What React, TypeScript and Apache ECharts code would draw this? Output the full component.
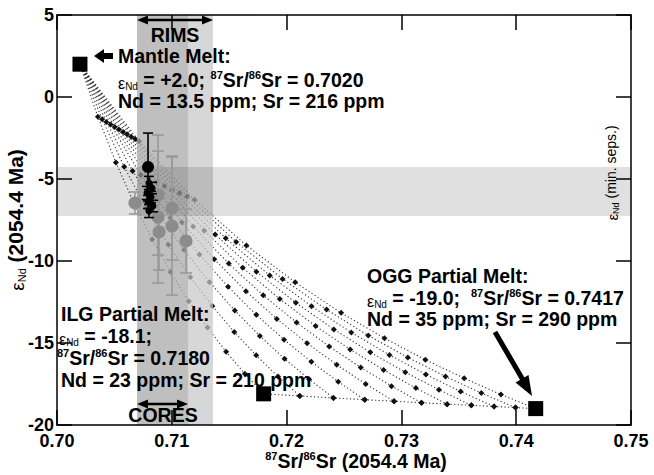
import React, { useEffect, useRef } from 'react';
import * as echarts from 'echarts';

const F = '"Liberation Sans", Arial, Helvetica, sans-serif';

// End members [87Sr/86Sr, eNd]
const mantleMelt = [0.702, 2.0];
const ilgMelt = [0.718, -18.1];
const oggMelt = [0.7417, -19.0];

// Mixing curves mantle -> crustal mixes (ILG:OGG from 100:0 to 0:100), ticks every 10 %
const mixG00 = [[0.7020, 2.00], [0.70356, -1.20], [0.70513, -4.00], [0.70671, -6.48], [0.70829, -8.69], [0.70989, -10.67], [0.71149, -12.45], [0.71311, -14.06], [0.71473, -15.53], [0.71636, -16.87], [0.7180, -18.10]];
const mixG01 = [[0.7020, 2.00], [0.70393, -1.36], [0.70586, -4.26], [0.70778, -6.79], [0.70970, -9.01], [0.71162, -10.99], [0.71353, -12.75], [0.71544, -14.33], [0.71735, -15.75], [0.71925, -17.05], [0.72115, -18.23]];
const mixG02 = [[0.7020, 2.00], [0.70430, -1.52], [0.70658, -4.51], [0.70884, -7.08], [0.71107, -9.32], [0.71329, -11.29], [0.71549, -13.02], [0.71767, -14.57], [0.71982, -15.96], [0.72196, -17.21], [0.72408, -18.35]];
const mixG03 = [[0.7020, 2.00], [0.70467, -1.67], [0.70729, -4.75], [0.70987, -7.37], [0.71241, -9.61], [0.71490, -11.57], [0.71736, -13.28], [0.71978, -14.80], [0.72216, -16.15], [0.72450, -17.36], [0.72681, -18.46]];
const mixG04 = [[0.7020, 2.00], [0.70503, -1.83], [0.70799, -4.99], [0.71088, -7.64], [0.71370, -9.89], [0.71646, -11.84], [0.71915, -13.53], [0.72179, -15.01], [0.72437, -16.33], [0.72689, -17.50], [0.72936, -18.55]];
const mixG05 = [[0.7020, 2.00], [0.70539, -1.98], [0.70868, -5.21], [0.71186, -7.90], [0.71496, -10.16], [0.71796, -12.09], [0.72087, -13.75], [0.72371, -15.21], [0.72646, -16.49], [0.72914, -17.63], [0.73175, -18.64]];
const mixG06 = [[0.7020, 2.00], [0.70575, -2.13], [0.70936, -5.43], [0.71283, -8.15], [0.71618, -10.41], [0.71941, -12.32], [0.72253, -13.97], [0.72554, -15.39], [0.72845, -16.64], [0.73126, -17.75], [0.73398, -18.73]];
const mixG07 = [[0.7020, 2.00], [0.70610, -2.27], [0.71002, -5.65], [0.71378, -8.39], [0.71737, -10.65], [0.72081, -12.55], [0.72412, -14.17], [0.72729, -15.57], [0.73034, -16.78], [0.73327, -17.85], [0.73609, -18.80]];
const mixG08 = [[0.7020, 2.00], [0.70646, -2.42], [0.71068, -5.86], [0.71470, -8.62], [0.71853, -10.88], [0.72217, -12.76], [0.72564, -14.36], [0.72896, -15.73], [0.73213, -16.92], [0.73516, -17.96], [0.73807, -18.87]];
const mixG09 = [[0.7020, 2.00], [0.70681, -2.56], [0.71134, -6.06], [0.71561, -8.84], [0.71965, -11.09], [0.72348, -12.96], [0.72711, -14.54], [0.73056, -15.88], [0.73384, -17.04], [0.73696, -18.05], [0.73994, -18.94]];
const mixG10 = [[0.7020, 2.00], [0.70715, -2.70], [0.71198, -6.26], [0.71650, -9.05], [0.72075, -11.30], [0.72475, -13.16], [0.72853, -14.71], [0.73209, -16.02], [0.73547, -17.15], [0.73867, -18.14], [0.7417, -19.00]];

// Shaded ranges
const rimsSr = [0.70697, 0.71359];
const coresSr = [0.70697, 0.71141];
const minSepsEps = [-7.26, -4.27];

// Rim analyses (grey)
const rimSr = [0.70679, 0.70880, 0.71002, 0.70880, 0.71002, 0.70889, 0.71124];
const rimEps = [-6.46, -5.98, -6.77, -7.32, -7.87, -8.23, -8.78];
const rimErr = [0.67, 3.66, 3.17, 4.02, 4.21, 2.32, 1.95];

// Core analyses (black)
const coreMain = [0.70793, -4.27, 2.07];
const coreSr = [0.70801, 0.70828, 0.70784, 0.70819, 0.70793, 0.70836, 0.70801];
const coreEps = [-5.24, -5.55, -5.85, -6.10, -6.40, -6.65, -6.95];
const coreErr = [0.4, 0.35, 0.4, 0.35, 0.4, 0.35, 0.4];

const xTicks = [0.70, 0.71, 0.72, 0.73, 0.74, 0.75];
const yTicks = [-20, -15, -10, -5, 0, 5];

const rich: any = {
  b: { fontFamily: F, fontSize: 19.5, fontWeight: 'bold', color: '#000', fill: '#000', lineHeight: 22 },
  sup: { fontFamily: F, fontSize: 11, fontWeight: 'bold', color: '#000', fill: '#000', lineHeight: 11, verticalAlign: 'top' },
  eps: { fontFamily: F, fontSize: 16, color: '#000', fill: '#000', lineHeight: 20, verticalAlign: 'bottom' },
  nd: { fontFamily: F, fontSize: 10, color: '#000', fill: '#000', lineHeight: 15, verticalAlign: 'bottom' },
  r: { fontFamily: F, fontSize: 14, color: '#000', fill: '#000', lineHeight: 18 },
  eps2: { fontFamily: F, fontSize: 15, color: '#000', fill: '#000', lineHeight: 18, verticalAlign: 'bottom' },
  nd2: { fontFamily: F, fontSize: 9, color: '#000', fill: '#000', lineHeight: 14, verticalAlign: 'bottom' },
  yb: { fontFamily: F, fontSize: 21, fontWeight: 'bold', color: '#000', lineHeight: 24 },
  yeps: { fontFamily: F, fontSize: 19, color: '#000', lineHeight: 22, verticalAlign: 'bottom' },
  ynd: { fontFamily: F, fontSize: 11, color: '#000', lineHeight: 16, verticalAlign: 'bottom' },
};

function txt(text: string, x: number, y: number, extra: any = {}) {
  return {
    type: 'text', x, y, z: 100, silent: true,
    style: {
      text, rich, fill: '#000', font: `bold 19.5px ${F}`,
      align: 'left', verticalAlign: 'middle', textAlign: 'left', textVerticalAlign: 'middle',
      ...extra,
    },
  };
}

function dblArrow(x0: number, x1: number, y: number) {
  const hl = 11, hw = 4.5;
  return [
    { type: 'line', z: 100, silent: true, shape: { x1: x0 + 6, y1: y, x2: x1 - 6, y2: y }, style: { stroke: '#000', lineWidth: 2.5 } },
    { type: 'polygon', z: 100, silent: true, shape: { points: [[x0, y], [x0 + hl, y - hw], [x0 + hl, y + hw]] }, style: { fill: '#000' } },
    { type: 'polygon', z: 100, silent: true, shape: { points: [[x1, y], [x1 - hl, y - hw], [x1 - hl, y + hw]] }, style: { fill: '#000' } },
  ];
}

export default function App() {
  const ref = useRef<HTMLDivElement>(null);
  useEffect(() => {
    document.body.style.margin = '0';
    const chart = echarts.init(ref.current!, null, { renderer: 'svg' });
    const curves = [mixG00, mixG01, mixG02, mixG03, mixG04, mixG05, mixG06, mixG07, mixG08, mixG09, mixG10];
    const bottomLine = curves.map((c) => c[c.length - 1]);
    const markers: number[][] = [];
    curves.forEach((c) => c.slice(1).forEach((p) => markers.push(p)));

    const bandColors = ['rgba(200,200,200,0.72)', 'rgba(0,0,0,0.11)', 'rgba(0,0,0,0.12)'];
    const bands = [
      [rimsSr[0], rimsSr[1], -20, 5],
      [coresSr[0], coresSr[1], -20, 5],
      [0.70, 0.75, minSepsEps[0], minSepsEps[1]],
    ];

    const errRender = (color: string, cw: number) => (params: any, api: any) => {
      const x = api.value(0), y = api.value(1), e = api.value(2);
      const t = api.coord([x, y + e]);
      const b = api.coord([x, y - e]);
      const st = { stroke: color, lineWidth: 1.6 };
      return {
        type: 'group',
        children: [
          { type: 'line', shape: { x1: t[0], y1: t[1], x2: b[0], y2: b[1] }, style: st },
          { type: 'line', shape: { x1: t[0] - cw, y1: t[1], x2: t[0] + cw, y2: t[1] }, style: st },
          { type: 'line', shape: { x1: b[0] - cw, y1: b[1], x2: b[0] + cw, y2: b[1] }, style: st },
        ],
      };
    };

    const axisCommon = {
      type: 'value' as const,
      axisLine: { show: true, onZero: false, lineStyle: { color: '#000', width: 1.5 } },
      axisTick: { show: true, inside: true, length: 15, lineStyle: { color: '#000', width: 1.5 } },
      splitLine: { show: false },
      nameMoveOverlap: false,
      z: 8,
    };

    const series: any[] = [];
    curves.forEach((c) => {
      series.push({
        type: 'line', data: c, showSymbol: false, symbol: 'none', silent: true, z: 2,
        lineStyle: { color: '#333', width: 1.1, type: [1.2, 2.4] },
      });
    });
    series.push({
      type: 'line', data: bottomLine, showSymbol: false, symbol: 'none', silent: true, z: 2,
      lineStyle: { color: '#333', width: 1.1, type: [1.2, 2.4] },
    });
    series.push({
      type: 'scatter', data: markers.concat(bottomLine), symbol: 'diamond', symbolSize: 6, silent: true, z: 3,
      itemStyle: { color: '#111', opacity: 1 },
    });
    series.push({
      type: 'custom', silent: true, z: 4, data: bands,
      encode: { x: [0, 1], y: [2, 3] },
      renderItem: (params: any, api: any) => {
        const p0 = api.coord([api.value(0), api.value(3)]);
        const p1 = api.coord([api.value(1), api.value(2)]);
        return { type: 'rect', shape: { x: p0[0], y: p0[1], width: p1[0] - p0[0], height: p1[1] - p0[1] }, style: { fill: bandColors[params.dataIndex] } };
      },
    });
    series.push({
      type: 'custom', silent: true, z: 5, data: rimSr.map((x, i) => [x, rimEps[i], rimErr[i]]),
      encode: { x: 0, y: 1 }, renderItem: errRender('#999', 6),
    });
    series.push({
      type: 'scatter', silent: true, z: 5, data: rimSr.map((x, i) => [x, rimEps[i]]),
      symbol: 'circle', symbolSize: 13, itemStyle: { color: '#8c8c8c', opacity: 1 },
    });
    series.push({
      type: 'custom', silent: true, z: 6, data: [coreMain].concat(coreSr.map((x, i) => [x, coreEps[i], coreErr[i]])),
      encode: { x: 0, y: 1 }, renderItem: errRender('#000', 5),
    });
    series.push({
      type: 'scatter', silent: true, z: 6, data: [[coreMain[0], coreMain[1]]],
      symbol: 'circle', symbolSize: 12, itemStyle: { color: '#000', opacity: 1 },
    });
    series.push({
      type: 'scatter', silent: true, z: 6, data: coreSr.map((x, i) => [x, coreEps[i]]),
      symbol: 'circle', symbolSize: 7, itemStyle: { color: '#000', opacity: 1 },
    });
    series.push({
      type: 'scatter', silent: true, z: 7, data: [mantleMelt, ilgMelt, oggMelt],
      symbol: 'rect', symbolSize: 15, itemStyle: { color: '#000', opacity: 1 },
    });

    const option: any = {
      animation: false,
      grid: { left: 57, right: 23, top: 15, bottom: 50, containLabel: false, outerBoundsMode: 'none' },
      xAxis: [
        {
          ...axisCommon, position: 'bottom', min: xTicks[0], max: xTicks[xTicks.length - 1], interval: 0.01,
          axisLabel: { show: true, margin: 8, lineHeight: 16, fontFamily: F, fontSize: 18, fontWeight: 'bold', color: '#000', formatter: (v: number) => v.toFixed(2) },
          name: '{sup|87}{b|Sr/}{sup|86}{b|Sr (2054.4 Ma)}', nameLocation: 'middle', nameGap: 25,
          nameTextStyle: { rich, padding: [0, 0, 0, 24] },
        },
        {
          ...axisCommon, position: 'top', min: xTicks[0], max: xTicks[xTicks.length - 1], interval: 0.01,
          axisLabel: { show: false },
        },
      ],
      yAxis: [
        {
          ...axisCommon, position: 'left', min: yTicks[0], max: yTicks[yTicks.length - 1], interval: 5,
          axisLabel: { show: true, margin: 3, lineHeight: 14, fontFamily: F, fontSize: 18, fontWeight: 'bold', color: '#000' },
          name: '{yeps|ε}{ynd|Nd}{yb| (2054.4 Ma)}', nameLocation: 'middle', nameGap: 30, nameRotate: 90,
          nameTextStyle: { rich },
        },
        {
          ...axisCommon, position: 'right', min: yTicks[0], max: yTicks[yTicks.length - 1], interval: 5,
          axisLabel: { show: false },
        },
      ],
      series,
      graphic: [
        ...dblArrow(137, 213, 20),
        txt('{b|RIMS}', 175, 35, { align: 'center', textAlign: 'center' }),
        ...dblArrow(137, 188, 404),
        txt('{b|CORES}', 163, 415, { align: 'center', textAlign: 'center' }),
        { type: 'polygon', z: 100, silent: true, shape: { points: [[94, 56], [104, 49], [104, 53], [113, 53], [113, 59], [104, 59], [104, 63]] }, style: { fill: '#000' } },
        txt('{b|Mantle Melt:}', 118, 56),
        txt('{eps|ε}{nd|Nd}{b| = +2.0; }{sup|87}{b|Sr/}{sup|86}{b|Sr = 0.7020}', 118, 80),
        txt('{b|Nd = 13.5 ppm; Sr = 216 ppm}', 118, 101),
        txt('{b|ILG Partial Melt:}', 61, 314),
        txt('{eps|ε}{nd|Nd}{b| = -18.1;}', 59, 336),
        txt('{sup|87}{b|Sr/}{sup|86}{b|Sr = 0.7180}', 57, 358),
        txt('{b|Nd = 23 ppm; Sr = 210 ppm}', 61, 380),
        txt('{b|OGG Partial Melt:}', 367, 276),
        txt('{eps|ε}{nd|Nd}{b| = -19.0;  }{sup|87}{b|Sr/}{sup|86}{b|Sr = 0.7417}', 367, 298),
        txt('{b|Nd = 35 ppm; Sr = 290 ppm}', 367, 319),
        { type: 'line', z: 100, silent: true, shape: { x1: 495, y1: 332, x2: 523, y2: 380 }, style: { stroke: '#000', lineWidth: 5 } },
        { type: 'polygon', z: 100, silent: true, shape: { points: [[532, 396], [515.5, 382.5], [528.5, 375]] }, style: { fill: '#000' } },
        {
          type: 'text', x: 611, y: 173, rotation: Math.PI / 2, z: 100, silent: true,
          style: { text: '{eps2|ε}{nd2|Nd}{r| (min. seps.)}', rich, fill: '#000', align: 'center', verticalAlign: 'middle', textAlign: 'center', textVerticalAlign: 'middle' },
        },
      ],
    };
    chart.setOption(option);
    return () => chart.dispose();
  }, []);
  return <div ref={ref} style={{ width: 654, height: 475 }} />;
}
